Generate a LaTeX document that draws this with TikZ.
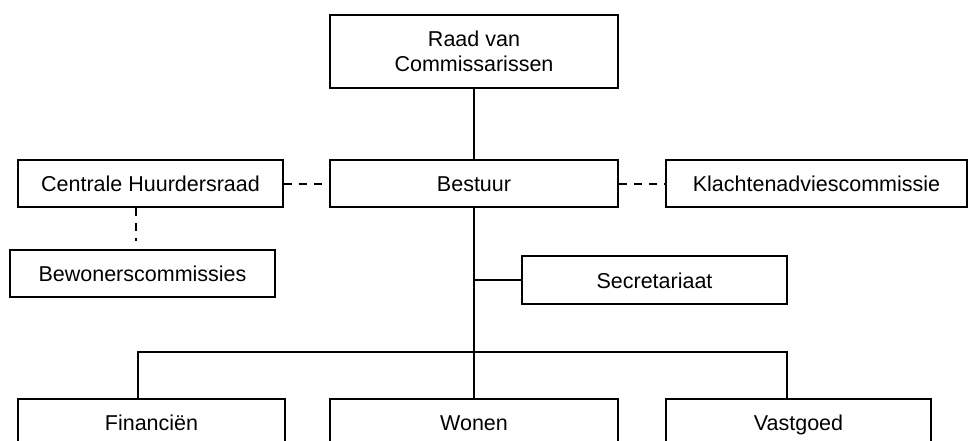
\documentclass[tikz,border=0pt]{standalone}
\usepackage{fontspec}
\setmainfont{Liberation Sans}
\begin{document}
\begin{tikzpicture}[x=1pt,y=-1pt,
  base/.style={draw,line width=1.6pt,inner sep=0pt,align=center,font=\fontsize{21.5}{25}\selectfont},
  box/.style={base,text height=16pt,text depth=0pt},
  link/.style={line width=1.6pt},
  dlink/.style={line width=2pt,dash pattern=on 8pt off 7pt}]
\useasboundingbox (0,0) rectangle (968,441);
\clip (0,0) rectangle (968,441);
\node[base,minimum width=288pt,minimum height=73pt] (raad) at (474,51.5) {Raad van\\Commissarissen};
\node[box,minimum width=288pt,minimum height=47pt] (bestuur) at (474,183.5) {Bestuur};
\node[box,minimum width=265pt,minimum height=47pt] (chr) at (150.5,183.5) {Centrale Huurdersraad};
\node[box,minimum width=301pt,minimum height=47pt] (kac) at (816.5,183.5) {Klachtenadviescommissie};
\node[box,minimum width=265pt,minimum height=47pt] (bew) at (142.5,273.5) {Bewonerscommissies};
\node[box,minimum width=265pt,minimum height=48pt] (sec) at (654.5,280) {Secretariaat};
\node[box,minimum width=267pt,minimum height=47pt] (fin) at (151.5,422.5) {Financiën};
\node[box,minimum width=288pt,minimum height=47pt] (won) at (474,422.5) {Wonen};
\node[box,minimum width=265pt,minimum height=47pt] (vas) at (798.5,422.5) {Vastgoed};
\coordinate (bus) at (474,352);
\coordinate (secj) at (474,280);
\draw[link] (raad) -- (bestuur);
\draw[link] (bestuur) -- (bus);
\draw[link] (secj) -- (sec.west);
\draw[link] (bus) -- (won);
\draw[link] (bus) -| (fin.north -| 138,0);
\draw[link] (bus) -| (vas.north -| 787,0);
\draw[dlink] (chr) -- (bestuur);
\draw[dlink] (bestuur) -- (kac);
\draw[dlink,shorten >=8pt] (chr.south -| 136,0) -- (bew.north -| 136,0);
\end{tikzpicture}
\end{document}
